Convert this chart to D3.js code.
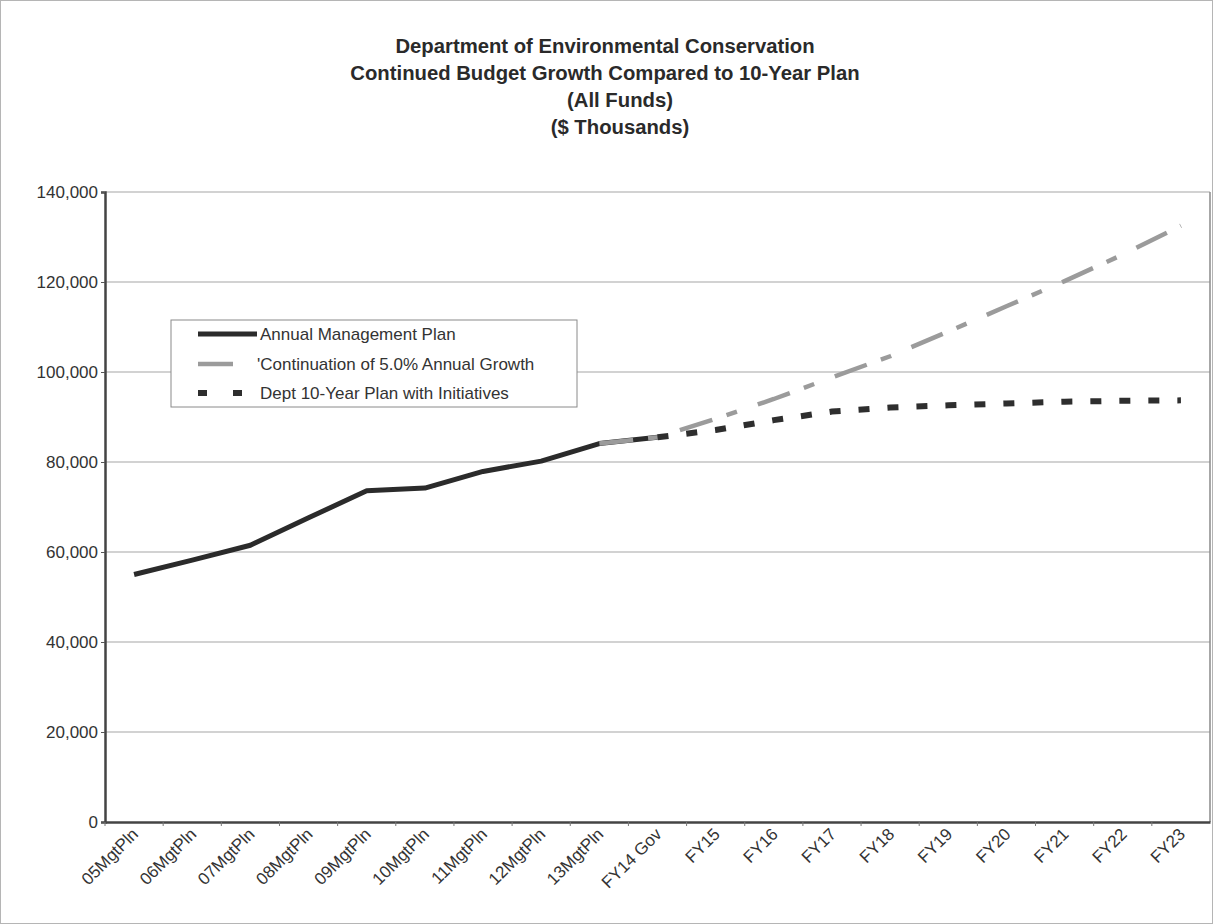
<!DOCTYPE html>
<html>
<head>
<meta charset="utf-8">
<script src="https://cdn.jsdelivr.net/npm/d3@7"></script>
<style>
  html, body { margin: 0; padding: 0; background: #fff; }
  svg { display: block; font-family: "Liberation Sans", Arial, sans-serif; }
</style>
</head>
<body>
<svg id="chart" width="1213" height="924"></svg>
<script>
// ---- data ----
const categories = ["05MgtPln","06MgtPln","07MgtPln","08MgtPln","09MgtPln","10MgtPln","11MgtPln","12MgtPln","13MgtPln","FY14 Gov","FY15","FY16","FY17","FY18","FY19","FY20","FY21","FY22","FY23"];
const mgmtPlan = [55000, 58200, 61500, 67600, 73600, 74200, 77900, 80200, 84100, 85500, null, null, null, null, null, null, null, null, null];
const growth = [null, null, null, null, null, null, null, null, 84100, 85500, 89600, 94000, 98800, 103500, 109000, 114600, 120200, 126100, 132500];
const deptPlan = [null, null, null, null, null, null, null, null, null, 85500, 87100, 89300, 91200, 92100, 92600, 93000, 93400, 93600, 93700];
const yTicks = [0, 20000, 40000, 60000, 80000, 100000, 120000, 140000];
const titleLines = ["Department of Environmental Conservation", "Continued Budget Growth Compared to 10-Year Plan", "(All Funds)", "($ Thousands)"];
const legendLabels = ["Annual Management Plan", "'Continuation of 5.0% Annual Growth", "Dept 10-Year Plan with Initiatives"];

// ---- layout ----
const svg = d3.select("#chart");
const L = 105, R = 1210, T = 192, B = 822;

svg.append("rect").attr("x", 0.5).attr("y", 0.5).attr("width", 1212).attr("height", 923)
  .attr("fill", "#fff").attr("stroke", "#b5b5b5").attr("stroke-width", 1);

const x = d3.scaleBand().domain(categories).range([L, R]).padding(0);
const cx = c => x(c) + x.bandwidth() / 2;
const y = d3.scaleLinear().domain([0, 140000]).range([B, T]);

// gridlines
svg.append("g").selectAll("line").data(yTicks.filter(v => v > 0)).join("line")
  .attr("x1", L).attr("x2", R).attr("y1", d => y(d)).attr("y2", d => y(d))
  .attr("stroke", "#a5a5a5").attr("stroke-width", 1.2);
// right border
svg.append("line").attr("x1", R).attr("x2", R).attr("y1", T).attr("y2", B)
  .attr("stroke", "#8a8a8a").attr("stroke-width", 1.5);

// y axis
const yAxis = d3.axisLeft(y).tickValues(yTicks).tickFormat(d3.format(",")).tickSize(4).tickPadding(3);
const gy = svg.append("g").attr("transform", `translate(${L},0)`).call(yAxis);
gy.select(".domain").attr("stroke", "#444").attr("stroke-width", 2.5);
gy.selectAll(".tick line").attr("stroke", "#555");
gy.selectAll("text").attr("font-size", 17).attr("fill", "#333")
  .attr("font-family", "'Liberation Sans', Arial, sans-serif");

// x axis
const xAxis = d3.axisBottom(x).tickSize(0).tickPadding(0);
const gx = svg.append("g").attr("transform", `translate(0,${B})`).call(xAxis);
gx.select(".domain").attr("stroke", "#444").attr("stroke-width", 2.5);
gx.selectAll(".tick text")
  .attr("font-size", 17).attr("fill", "#333")
  .attr("font-family", "'Liberation Sans', Arial, sans-serif")
  .attr("text-anchor", "end")
  .attr("dy", "0.35em")
  .attr("transform", "translate(1,9) rotate(-45)");
// boundary tick marks
svg.append("g").selectAll("line").data(categories).join("line")
  .attr("x1", d => x(d)).attr("x2", d => x(d))
  .attr("y1", B).attr("y2", B + 4)
  .attr("stroke", "#777").attr("stroke-width", 1);

// lines
const line = d3.line().defined(d => d.v != null).x(d => cx(d.c)).y(d => y(d.v));
const mk = arr => categories.map((c, i) => ({ c, v: arr[i] }));

svg.append("path").datum(mk(mgmtPlan)).attr("d", line)
  .attr("fill", "none").attr("stroke", "#2b2b2b").attr("stroke-width", 5)
  .attr("stroke-linejoin", "round");
svg.append("path").datum(mk(growth)).attr("d", line)
  .attr("fill", "none").attr("stroke", "#9b9b9b").attr("stroke-width", 4.5)
  .attr("stroke-dasharray", "34,15,11,22");
svg.append("path").datum(mk(deptPlan)).attr("d", line)
  .attr("fill", "none").attr("stroke", "#2e2e2e").attr("stroke-width", 6)
  .attr("stroke-dasharray", "11,18");

// title
const titleX = [605, 605, 620, 620];
svg.append("g").selectAll("text").data(titleLines).join("text")
  .attr("x", (d, i) => titleX[i]).attr("y", (d, i) => 46 + i * 27)
  .attr("dy", "0.35em").attr("text-anchor", "middle")
  .attr("font-size", 20.3).attr("font-weight", "bold").attr("fill", "#2a2a2a")
  .text(d => d);

// legend
const lg = svg.append("g");
lg.append("rect").attr("x", 171).attr("y", 320).attr("width", 406).attr("height", 87)
  .attr("fill", "#fff").attr("stroke", "#8a8a8a").attr("stroke-width", 1);
const ly = [334, 364, 393];
lg.append("line").attr("x1", 198).attr("x2", 257).attr("y1", ly[0]).attr("y2", ly[0])
  .attr("stroke", "#2b2b2b").attr("stroke-width", 5);
lg.append("line").attr("x1", 198).attr("x2", 233).attr("y1", ly[1]).attr("y2", ly[1])
  .attr("stroke", "#9b9b9b").attr("stroke-width", 4.5);
lg.append("line").attr("x1", 198).attr("x2", 242).attr("y1", ly[2]).attr("y2", ly[2])
  .attr("stroke", "#2e2e2e").attr("stroke-width", 6).attr("stroke-dasharray", "9,26");
lg.selectAll("text.lt").data(legendLabels).join("text").attr("class", "lt")
  .attr("x", (d, i) => i === 1 ? 257 : 260).attr("y", (d, i) => ly[i])
  .attr("dy", "0.35em").attr("font-size", 17).attr("fill", "#333")
  .text(d => d);
</script>
</body>
</html>
